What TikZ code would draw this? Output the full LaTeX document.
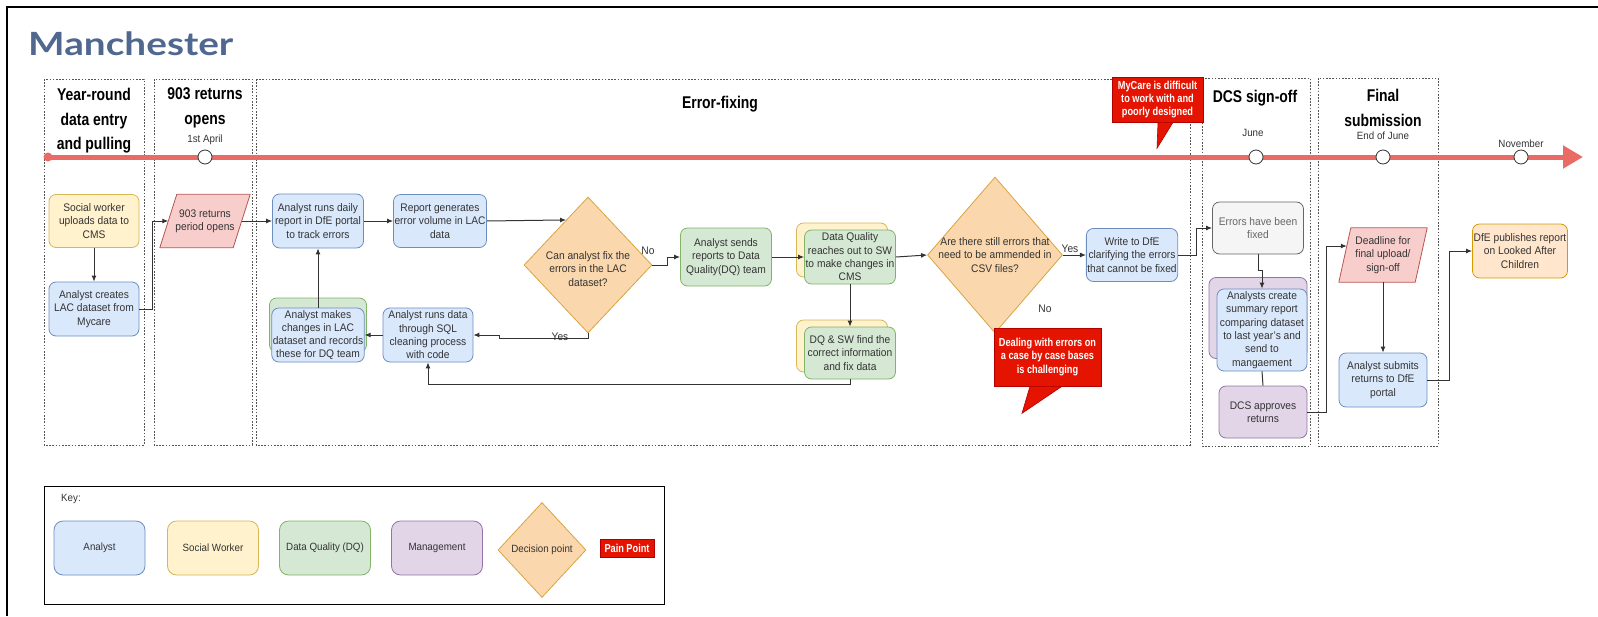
\documentclass[tikz,border=0pt]{standalone}
\usepackage{fontspec}
\usepackage{graphicx}
\setmainfont{Liberation Sans}[FakeStretch=0.93]
\newfontfamily\lanefam{Liberation Sans}[FakeStretch=0.82]
\newfontfamily\condfam{Liberation Sans}[FakeStretch=0.8]
\newfontfamily\headfam{Lato}
\usetikzlibrary{shapes.geometric,arrows.meta,calc}

\newcommand\boxfont{\fontsize{11}{13.3}\selectfont}
\newcommand\datefont{\fontsize{10.5}{12}\selectfont}
\newcommand\lanefont{\lanefam\bfseries\fontsize{17}{24.5}\selectfont}
\newcommand\painfont{\condfam\bfseries\fontsize{11.5}{13.3}\selectfont}
\newcommand\keyfont{\fontsize{10.5}{12}\selectfont}

\definecolor{titleblue}{HTML}{506890}
\definecolor{txt}{HTML}{333333}
\definecolor{anfill}{HTML}{DAE8FC}\definecolor{anline}{HTML}{6C8EBF}
\definecolor{swfill}{HTML}{FFF2CC}\definecolor{swline}{HTML}{D6B656}
\definecolor{dqfill}{HTML}{D5E8D4}\definecolor{dqline}{HTML}{82B366}
\definecolor{mgfill}{HTML}{E1D5E7}\definecolor{mgline}{HTML}{9673A6}
\definecolor{gyfill}{HTML}{F5F5F5}\definecolor{gyline}{HTML}{666666}\definecolor{gytext}{HTML}{666666}
\definecolor{orfill}{HTML}{FFE6CC}\definecolor{orline}{HTML}{D79B00}
\definecolor{pkfill}{HTML}{F8CECC}\definecolor{pkline}{HTML}{B85450}
\definecolor{dcfill}{HTML}{FAD7AC}\definecolor{dcline}{HTML}{D9A441}
\definecolor{painred}{HTML}{E51400}\definecolor{paindark}{HTML}{B20000}
\definecolor{tlred}{HTML}{EA6B66}
\definecolor{lanecol}{HTML}{555555}
\definecolor{linecol}{HTML}{333333}

\tikzset{
  wh/.style 2 args={minimum width=#1pt, minimum height=#2pt},
  box/.style={rectangle, rounded corners=7pt, line width=0.8pt, align=center, font=\boxfont, text=txt, inner sep=1pt},
  analyst/.style={box, fill=anfill, draw=anline},
  social/.style={box, fill=swfill, draw=swline},
  dq/.style={box, fill=dqfill, draw=dqline},
  mgmt/.style={box, fill=mgfill, draw=mgline},
  done/.style={box, fill=gyfill, draw=gyline, text=gytext},
  publish/.style={box, fill=orfill, draw=orline},
  keybox/.style={rounded corners=9pt, font=\keyfont},
  paraslot/.style={rectangle, inner sep=0pt},
  parashape/.style={fill=pkfill, draw=pkline, line width=0.8pt, line join=round},
  decision/.style={diamond, fill=dcfill, draw=dcline, line width=0.8pt, inner sep=0pt},
  label/.style={font=\boxfont, text=txt, align=center, inner sep=0pt},
  pain/.style={rectangle, fill=painred, draw=paindark, line width=0.6pt, text=white, font=\painfont, align=center, inner sep=1pt},
  pointer/.style={fill=painred, draw=paindark, line width=0.6pt, line join=miter},
  lane/.style={draw=lanecol, line width=1pt, dash pattern=on 1.6pt off 1.6pt},
  lanetitle/.style={font=\lanefont, align=center, text=black, inner sep=0pt},
  conn/.style={draw=linecol, line width=1pt, -{Latex[length=6pt,width=5pt]}},
  plain/.style={draw=linecol, line width=1pt},
  date/.style={font=\datefont, text=txt, inner sep=0pt},
  milestone/.style={circle, draw=black!80, fill=white, line width=0.8pt, minimum size=14pt, inner sep=0pt},
}

\begin{document}
\begin{tikzpicture}[x=1pt,y=-1pt]
\useasboundingbox (0,0) rectangle (1598,616);

% page frame and heading
\draw[line width=2.7pt] (7,616) -- (7,7) -- (1598,7);
\node[anchor=base west, inner sep=0pt, font=\headfam\bfseries\fontsize{32}{36}\selectfont, text=titleblue] (title) at (28,55) {\scalebox{1.21}[1]{Manchester}};

% swimlanes
\draw[lane] (44,79) rectangle (144,445);
\draw[lane] (154,79) rectangle (252,445);
\draw[lane] (256,79) rectangle (1190,445);
\draw[lane] (1202,78) rectangle (1310,446);
\draw[lane] (1318,78) rectangle (1438,446);

\node[lanetitle] (lt1) at (94,121) {Year-round\\data entry\\and pulling};
\node[lanetitle] (lt2) at (205,108) {903 returns\\opens};
\node[lanetitle] (lt3) at (720,104) {Error-fixing};
\node[lanetitle] (lt4) at (1255,98) {DCS sign-off};
\node[lanetitle] (lt5) at (1383,108) {Final\\submission};

% timeline
\coordinate (tstart) at (48,157);
\coordinate (tend) at (1583,157);
\draw[line width=5pt, draw=tlred, -{Triangle[length=20pt,width=22pt]}] (tstart) -- (tend);
\fill[tlred] (tstart) circle[radius=4.5pt];
\node[milestone] (ms1) at (205,157) {};
\node[milestone] (ms2) at (1256,157) {};
\node[milestone] (ms3) at (1383,157) {};
\node[milestone] (ms4) at (1521,157) {};
\node[date] (dt1) at (205,140) {1st April};
\node[date] (dt2) at (1253,133) {June};
\node[date] (dt3) at (1383,136) {End of June};
\node[date] (dt4) at (1521,144) {November};

% year-round data entry
\node[social, wh={90}{53}] (sw1) at (94,221) {Social worker\\uploads data to\\CMS};
\node[analyst, wh={90}{54}] (a1) at (94,309) {Analyst creates\\LAC dataset from\\Mycare};

% returns open
\node[paraslot, wh={90}{53}] (p1) at (205,221) {};
\draw[parashape] (p1.south west) -- ([xshift=17pt]p1.north west) -- (p1.north east) -- ([xshift=-17pt]p1.south east) -- cycle;
\node[label] at (p1) {903 returns\\period opens};

% error fixing
\node[analyst, wh={91}{54}] (a2) at (318,221) {Analyst runs daily\\report in DfE portal\\to track errors};
\node[analyst, wh={91}{53}] (a3) at (440,221) {Report generates\\error volume in LAC\\data};
\node[decision, wh={128}{136}] (d1) at (588,265) {};
\node[label] at ([yshift=-4pt]d1.center) {Can analyst fix the\\errors in the LAC\\dataset?};
\node[dq, wh={91}{58}] (g1) at (726,257) {Analyst sends\\reports to Data\\Quality(DQ) team};
\node[social, wh={91}{54}] (g2back) at (842,250) {};
\node[dq, wh={91}{54}] (g2) at (850,257) {Data Quality\\reaches out to SW\\to make changes in\\CMS};
\node[social, wh={91}{52}] (g3back) at (842,346) {};
\node[dq, wh={91}{52}] (g3) at (850,353) {DQ \& SW find the\\correct information\\and fix data};
\node[analyst, wh={90}{54}] (a4) at (428,335) {Analyst runs data\\through SQL\\cleaning process\\with code};
\node[dq, wh={97}{54}] (a5back) at (318,325) {};
\node[analyst, wh={91}{54}] (a5) at (318,335) {Analyst makes\\changes in LAC\\dataset and records\\these for DQ team};
\node[decision, wh={135}{156}] (d2) at (995,255) {};
\node[label] at (d2) {Are there still errors that\\need to be ammended in\\CSV files?};
\node[analyst, wh={90}{53}] (a6) at (1132,255) {Write to DfE\\clarifying the errors\\that cannot be fixed};

% DCS sign-off
\node[done, wh={91}{52}] (e1) at (1258,228) {Errors have been\\fixed};
\node[mgmt, wh={98}{81}] (a7back) at (1258,318) {};
\node[analyst, wh={90}{82}] (a7) at (1262,330) {Analysts create\\summary report\\comparing dataset\\to last year's and\\send to\\mangaement};
\node[mgmt, wh={88}{52}] (m1) at (1263,412) {DCS approves\\returns};

% final submission
\node[paraslot, wh={88}{54}] (p2) at (1383,255) {};
\draw[parashape] (p2.south west) -- ([xshift=12pt]p2.north west) -- (p2.north east) -- ([xshift=-12pt]p2.south east) -- cycle;
\node[label] at (p2) {Deadline for\\final upload/\\sign-off};
\node[analyst, wh={88}{54}] (a8) at (1383,380) {Analyst submits\\returns to DfE\\portal};
\node[publish, wh={95}{54}] (y2) at (1520,251) {DfE publishes report\\on Looked After\\Children};

% connectors
\draw[conn] (sw1) -- (a1);
\draw[conn] (a1.east) -- ++(13,0) |- ([xshift=8.5pt]p1.west);
\draw[conn] ([xshift=-8.5pt]p1.east) -- (a2.west);
\draw[conn] (a2.east) -- (a3.west);
\draw[conn] (a3.east) -- (d1.116);
\draw[conn] (d1.east) -- ++(15,0) |- (g1.west);
\node[label] (no1) at (648,251) {No};
\draw[conn] (g1.east) -- (g2.west);
\draw[conn] (g2.south) -- (g3.north);
\draw[conn] (g3.south) -- ++(0,5) -| (a4.south);
\draw[conn] (d1.south) -- ++(0,5) -| ([xshift=26pt]a4.east) -- (a4.east);
\node[label] (yes1) at (560,337) {Yes};
\draw[conn] (a4.west) -- (a5.east);
\draw[conn] (a5.north) -- (a2.south);
\draw[conn] (g2.east) -- (d2.west);
\draw[conn] (d2.east) -- (a6.west);
\node[label] (yes2) at (1070,249) {Yes};
\node[label] (no2) at (1045,309) {No};
\draw[conn] (a6.east) -- ++(18,0) |- (e1.west);
\draw[conn] (e1.south) -- ++(0,16) -| (a7.north);
\draw[plain] (a7.south) -- (m1.north);
\draw[conn] (m1.east) -- ++(19,0) |- ([shift={(8pt,9pt)}]p2.west);
\draw[conn] (p2.south) -- (a8.north);
\draw[conn] (a8.east) -- ++(22,0) |- (y2.west);

% pain points
\node[pain, wh={91}{45}] (pain1) at (1157.5,99.5) {MyCare is difficult\\to work with and\\poorly designed};
\draw[pointer] ([xshift=0.5pt]pain1.south) -- ($(pain1.south)+(-0.5,26)$) -- ([xshift=15.5pt]pain1.south) -- cycle;
\node[pain, wh={107}{58}] (pain2) at (1047.5,357) {Dealing with errors on\\a case by case bases\\is challenging};
\draw[pointer] ([xshift=-17.5pt]pain2.south) -- ($(pain2.south)+(-25.5,27)$) -- ([xshift=14.5pt]pain2.south) -- cycle;

% key
\node[draw=black, line width=0.8pt, wh={620}{118}, inner sep=0pt] (key) at (354,545) {};
\node[anchor=west, font=\keyfont, text=txt, inner sep=0pt] (keytitle) at (61,499) {Key:};
\node[analyst, keybox, wh={91}{54}] (k1) at (99.5,548) {Analyst};
\node[social, keybox, wh={91}{54}] (k2) at (213,548) {Social Worker};
\node[dq, keybox, wh={91}{54}] (k3) at (325,548) {Data Quality (DQ)};
\node[mgmt, keybox, wh={91}{54}] (k4) at (437,548) {Management};
\node[decision, wh={88}{95}] (k5) at (542,550) {};
\node[font=\keyfont, text=txt, inner sep=0pt] at (k5) {Decision point};
\node[pain, wh={54}{18}, font=\condfam\bfseries\fontsize{11.5}{12}\selectfont] (k6) at (627,548) {Pain Point};
\end{tikzpicture}
\end{document}
